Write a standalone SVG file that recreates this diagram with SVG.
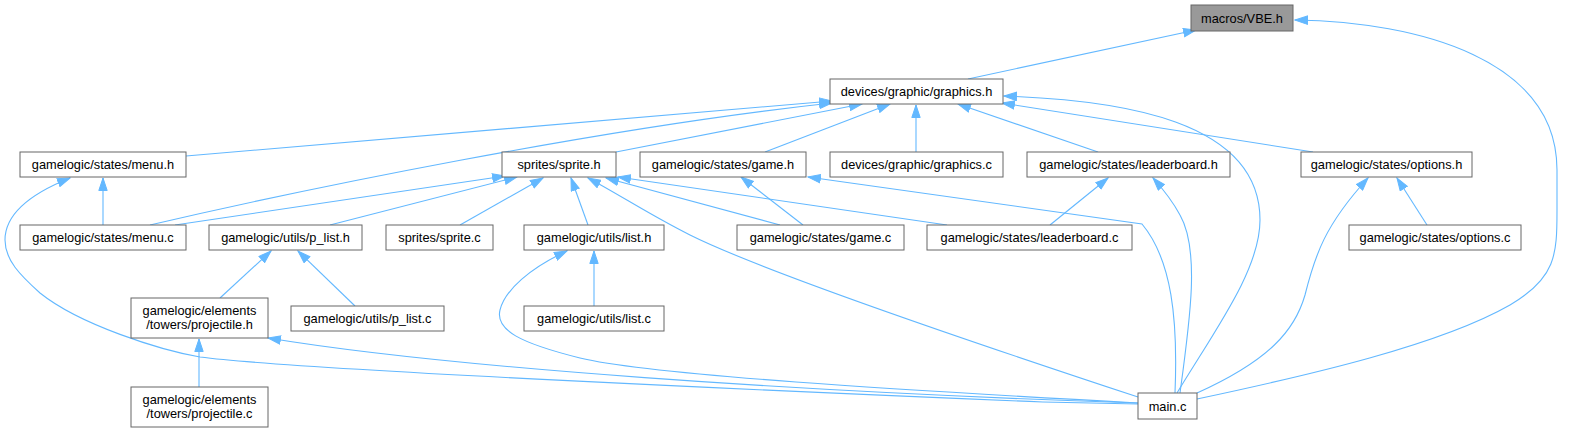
<svg xmlns="http://www.w3.org/2000/svg" width="1584" height="432" viewBox="0 0 1584 432">
<style>
.n rect{fill:#fff;stroke:#666;stroke-width:1}
.n.g rect{fill:#999}
.n text{font-family:"Liberation Sans",Arial,sans-serif;font-size:12.8px;text-anchor:middle;fill:#000}
.e path{fill:none;stroke:#63b8ff;stroke-width:1.1;marker-end:url(#a)}
</style>
<defs>
<marker id="a" markerUnits="userSpaceOnUse" markerWidth="14" markerHeight="10" refX="13" refY="5" orient="auto" viewBox="0 0 14 10"><path d="M0.5,0.8 L13,5 L0.5,9.2 z" fill="#63b8ff" stroke="#63b8ff" stroke-width="1"/></marker>
</defs>
<rect width="1584" height="432" fill="#fff"/>
<g class="e">
<path d="M968,79 L1196,30"/>
<path d="M1197,399 C1310,375 1440,345 1510,305 C1556,278 1557,255 1557,210 L1557,170 C1557,60 1420,22 1295,20"/>
<path d="M186,156 L832,101"/>
<path d="M150,225 C300,190 600,128 832,103"/>
<path d="M616,152 L862,104"/>
<path d="M765,152 L890,104"/>
<path d="M916,152 L916,105"/>
<path d="M1098,152 L958,104"/>
<path d="M1313,152 L1002,103"/>
<path d="M1177,393 C1215,330 1260,270 1260,220 C1260,120 1120,100 1004,96"/>
<path d="M103,225 L103,178"/>
<path d="M1138,404 L1043,402 C800,392 300,370 200,357 C160,350 80,325 40,293 C20,275 5,260 5,240 C5,210 40,190 70,178"/>
<path d="M175,225 L505,176"/>
<path d="M330,225 L517,177"/>
<path d="M460,225 L543,178"/>
<path d="M588,225 L571,178"/>
<path d="M1138,397 C950,335 760,270 690,235 C650,215 620,195 588,178"/>
<path d="M780,225 L606,178"/>
<path d="M947,225 L618,177"/>
<path d="M803,225 L741,177"/>
<path d="M1175,393 C1178,320 1172,260 1142,224 L808,177"/>
<path d="M1050,225 L1108,178"/>
<path d="M1180,393 C1190,320 1200,250 1180,215 C1172,200 1162,188 1153,178"/>
<path d="M1427,225 L1397,178"/>
<path d="M1197,393 C1270,360 1295,330 1305,295 C1315,255 1325,225 1368,178"/>
<path d="M220,298 L271,251"/>
<path d="M355,306 L298,251"/>
<path d="M594,306 L594,251"/>
<path d="M1138,403 C900,390 650,375 580,358 C520,343 495,330 500,310 C505,290 530,268 567,251"/>
<path d="M1138,403 C800,392 450,368 268,338"/>
<path d="M199,387 L199,339"/>
</g>
<g id="macros_VBE_h" class="n g"><rect x="1191" y="5" width="102" height="26"/><text x="1242" y="22.5">macros/VBE.h</text></g>
<g id="graphics_h" class="n"><rect x="830" y="79" width="173" height="25"/><text x="916.5" y="96">devices/graphic/graphics.h</text></g>
<g id="menu_h" class="n"><rect x="20" y="152" width="166" height="25"/><text x="103" y="169">gamelogic/states/menu.h</text></g>
<g id="sprite_h" class="n"><rect x="502" y="152" width="114" height="25"/><text x="559" y="169">sprites/sprite.h</text></g>
<g id="game_h" class="n"><rect x="640" y="152" width="166" height="25"/><text x="723" y="169">gamelogic/states/game.h</text></g>
<g id="graphics_c" class="n"><rect x="830" y="152" width="173" height="25"/><text x="916.5" y="169">devices/graphic/graphics.c</text></g>
<g id="leaderboard_h" class="n"><rect x="1027" y="152" width="203" height="25"/><text x="1128.5" y="169">gamelogic/states/leaderboard.h</text></g>
<g id="options_h" class="n"><rect x="1301" y="152" width="171" height="25"/><text x="1386.5" y="169">gamelogic/states/options.h</text></g>
<g id="menu_c" class="n"><rect x="20" y="225" width="166" height="25"/><text x="103" y="242">gamelogic/states/menu.c</text></g>
<g id="p_list_h" class="n"><rect x="209" y="225" width="153" height="25"/><text x="285.5" y="242">gamelogic/utils/p_list.h</text></g>
<g id="sprite_c" class="n"><rect x="386" y="225" width="107" height="25"/><text x="439.5" y="242">sprites/sprite.c</text></g>
<g id="list_h" class="n"><rect x="524" y="225" width="140" height="25"/><text x="594" y="242">gamelogic/utils/list.h</text></g>
<g id="game_c" class="n"><rect x="737" y="225" width="167" height="25"/><text x="820.5" y="242">gamelogic/states/game.c</text></g>
<g id="leaderboard_c" class="n"><rect x="927" y="225" width="205" height="25"/><text x="1029.5" y="242">gamelogic/states/leaderboard.c</text></g>
<g id="options_c" class="n"><rect x="1349" y="225" width="172" height="25"/><text x="1435" y="242">gamelogic/states/options.c</text></g>
<g id="projectile_h" class="n"><rect x="131" y="298" width="137" height="40"/><text x="199.5" y="315">gamelogic/elements</text><text x="199.5" y="329">/towers/projectile.h</text></g>
<g id="p_list_c" class="n"><rect x="291" y="306" width="153" height="25"/><text x="367.5" y="323">gamelogic/utils/p_list.c</text></g>
<g id="list_c" class="n"><rect x="524" y="306" width="140" height="25"/><text x="594" y="323">gamelogic/utils/list.c</text></g>
<g id="projectile_c" class="n"><rect x="131" y="387" width="137" height="40"/><text x="199.5" y="404">gamelogic/elements</text><text x="199.5" y="418">/towers/projectile.c</text></g>
<g id="main_c" class="n"><rect x="1138" y="393" width="59" height="26"/><text x="1167.5" y="410.5">main.c</text></g>
</svg>
